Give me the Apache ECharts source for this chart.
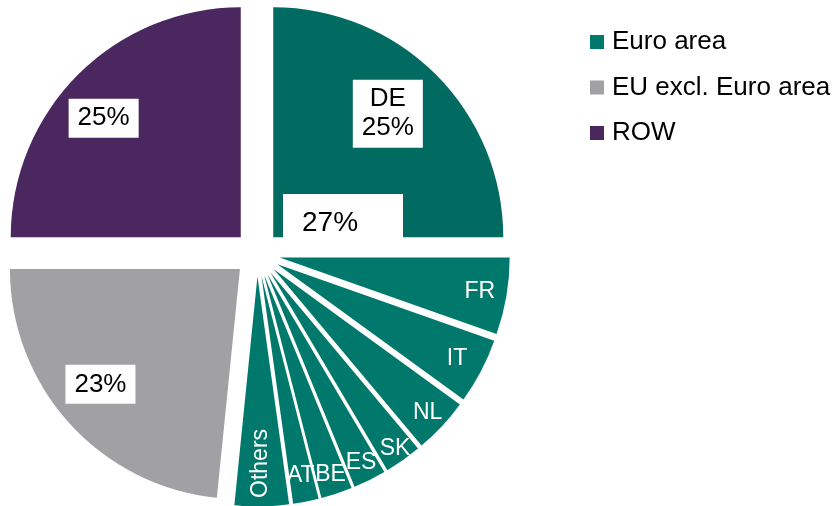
<!DOCTYPE html>
<html lang="en">
  <head>
    <meta charset="UTF-8" />
    <meta name="viewport" content="width=device-width, initial-scale=1.0" />
    <title>Exposure by country pie</title>
    <script src="https://cdn.jsdelivr.net/npm/echarts@6/dist/echarts.min.js"></script>
    <style>
      html,
      body {
        margin: 0;
        padding: 0;
        background: #fff;
      }
      #main {
        width: 835px;
        height: 506px;
      }
    </style>
  </head>
  <body>
    <div id="main"></div>

    <script>
      // Euro area countries, clockwise from 12 o'clock
      const countries = ['DE', 'FR', 'IT', 'NL', 'SK', 'ES', 'BE', 'AT', 'Others'];
      const countryShares = [25, 5.4, 4.6, 3.9, 2.6, 2.3, 2.2, 1.8, 3.8];

      const regions = ['EU excl. Euro area', 'ROW'];
      const regionShares = [23.4, 25];

      const legendNames = ['Euro area', 'EU excl. Euro area', 'ROW'];
      const legendColors = ['#00796c', '#a1a1a3', '#4a275e'];
      const deColor = '#026b61';

      const font = "'Liberation Sans', Arial, sans-serif";
      const center = [257, 253.5];
      const outer = 230;

      // label distance from the tip of its (pulled out) slice
      const labelRadius = {
        DE: 167.5,
        FR: 200,
        IT: 200,
        SK: 213,
        AT: 200,
        Others: 184,
        'EU excl. Euro area': 181,
        ROW: 181
      };
      const rimRadius = 207.5;
      // small nudges for the boxed labels
      const boxNudge = { DE: [-6, -3], 'EU excl. Euro area': [-3, -8], ROW: [-7, 11] };

      const slices = countries
        .map((n, i) => ({ name: n, value: countryShares[i] }))
        .concat(regions.map((n, i) => ({ name: n, value: regionShares[i] })));

      function sliceColor(name) {
        if (name === 'DE') return deColor;
        if (name === regions[0]) return legendColors[1];
        if (name === regions[1]) return legendColors[2];
        return legendColors[0];
      }

      function pct(p) {
        return Math.round(p.percent) + '%';
      }

      function isBoxed(name) {
        return name === 'DE' || regions.includes(name);
      }

      // every slice is pulled out the same way, overlays reuse it for labels
      function ring(radius, itemFn) {
        return {
          type: 'pie',
          center: center,
          radius: radius,
          startAngle: 90,
          clockwise: true,
          selectedMode: 'multiple',
          selectedOffset: 23,
          avoidLabelOverlap: false,
          labelLayout: function (params) {
            const nudge = boxNudge[slices[params.dataIndex].name];
            return nudge ? { dx: nudge[0], dy: nudge[1], hideOverlap: false } : { hideOverlap: false };
          },
          silent: true,
          animation: false,
          labelLine: { show: false },
          emphasis: { disabled: true },
          data: slices.map((s) => Object.assign({ name: s.name, value: s.value, selected: true }, itemFn(s)))
        };
      }

      const hidden = { itemStyle: { color: 'transparent' }, label: { show: false } };

      const boxLabel = {
        show: true,
        position: 'inside',
        rotate: 0,
        color: '#000',
        fontSize: 26,
        lineHeight: 29,
        fontFamily: font,
        backgroundColor: '#fff',
        padding: [5, 9]
      };

      function labelFor(s) {
        if (isBoxed(s.name)) {
          return Object.assign({}, boxLabel, {
            formatter: s.name === 'DE' ? (p) => p.name + '\n' + pct(p) : pct
          });
        }
        return {
          show: true,
          position: 'inside',
          formatter: '{b}',
          rotate: s.name === 'Others' ? 90 : 0,
          color: '#fff',
          fontSize: 23,
          fontFamily: font
        };
      }

      // one transparent ring per label distance, label sits mid-ring
      const radii = Array.from(new Set(slices.map((s) => labelRadius[s.name] || rimRadius)));
      const labelRings = radii.map((r) =>
        ring([2 * r - outer, outer], (s) =>
          (labelRadius[s.name] || rimRadius) === r
            ? { itemStyle: { color: 'transparent' }, label: labelFor(s) }
            : hidden
        )
      );

      const euroRest = countryShares.slice(1).reduce((a, b) => a + b, 0);

      const options = {
        backgroundColor: '#fff',
        legend: {
          data: legendNames,
          orient: 'vertical',
          left: 590,
          top: 29,
          padding: 0,
          icon: 'rect',
          itemWidth: 14,
          itemHeight: 14,
          itemGap: 19.5,
          selectedMode: false,
          textStyle: { fontSize: 26, color: '#000', fontFamily: font, padding: [0, 0, 0, 3] }
        },
        graphic: [
          {
            type: 'rect',
            z: 100,
            shape: { x: 283, y: 194, width: 120, height: 44 },
            style: { fill: '#fff' }
          },
          {
            type: 'text',
            z: 101,
            x: 302,
            y: 223,
            style: {
              text: Math.round(euroRest) + '%',
              font: '28px ' + font,
              fill: '#000',
              verticalAlign: 'middle'
            }
          }
        ],
        series: [ring([0, outer], (s) => ({ itemStyle: { color: sliceColor(s.name) }, label: { show: false } }))]
          .concat(labelRings)
          .concat(
            // empty series only to give the legend its three swatches
            legendNames.map((n, i) => ({
              type: 'pie',
              name: n,
              data: [],
              showEmptyCircle: false,
              itemStyle: { color: legendColors[i] }
            }))
          )
      };

      var myChart = echarts.init(document.querySelector('#main'));
      myChart.setOption(options);

      window.onresize = function () {
        myChart.resize();
      };
    </script>
  </body>
</html>
